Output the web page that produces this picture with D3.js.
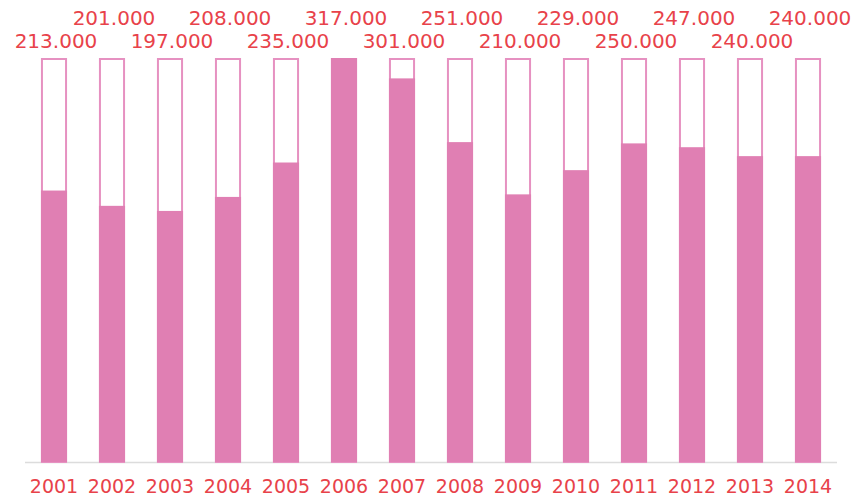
<!DOCTYPE html>
<html><head><meta charset="utf-8">
<script src="https://cdn.jsdelivr.net/npm/d3@7"></script>
<style>body{margin:0;background:#fff}svg{display:block}</style>
</head><body><svg id="c" width="861" height="496"></svg>
<script>
const years = ["2001","2002","2003","2004","2005","2006","2007","2008","2009","2010","2011","2012","2013","2014"];
const values = [213,201,197,208,235,317,301,251,210,229,250,247,240,240];

(function(){
const svg = d3.select("#c");
const pLeft = 25, pRight = 837, pTop = 58, pBottom = 462;
const x = d3.scaleBand().domain(years).range([pLeft, pRight]).paddingInner(0.55).paddingOuter(0.275);
const y = d3.scaleLinear().domain([0, d3.max(values)]).range([pBottom, pTop]);

svg.append("line").attr("x1", pLeft).attr("x2", pRight).attr("y1", pBottom + 0.5).attr("y2", pBottom + 0.5)
  .attr("stroke", "#dcdcdc").attr("stroke-width", 1.5);

const g = svg.append("g");
g.selectAll("rect.track").data(years).join("rect").attr("class","track")
  .attr("x", d => x(d) + 1).attr("y", y(d3.max(values)) + 1)
  .attr("width", x.bandwidth() - 2).attr("height", pBottom - y(d3.max(values)) - 1)
  .attr("fill", "#fff").attr("stroke", "#e691c1").attr("stroke-width", 2);
g.selectAll("rect.bar").data(values).join("rect").attr("class","bar")
  .attr("x", (d,i) => x(years[i])).attr("y", d => y(d))
  .attr("width", x.bandwidth()).attr("height", d => pBottom - y(d))
  .attr("fill", "#e07fb3");

const fmt = d3.format(".3f");
svg.selectAll("text.val").data(values).join("text").attr("class","val")
  .attr("x", (d,i) => x(years[i]) + x.bandwidth()/2 + 2)
  .attr("y", (d,i) => i % 2 === 0 ? 48 : 25)
  .attr("text-anchor", "middle")
  .attr("font-family", "DejaVu Sans, sans-serif").attr("font-size", 20)
  .attr("fill", "#e8424a")
  .text(d => fmt(d));

svg.selectAll("text.yr").data(years).join("text").attr("class","yr")
  .attr("x", d => x(d) + x.bandwidth()/2)
  .attr("y", 493)
  .attr("text-anchor", "middle")
  .attr("font-family", "DejaVu Sans, sans-serif").attr("font-size", 19)
  .attr("fill", "#e8424a")
  .text(d => d);
})();
</script></body></html>
